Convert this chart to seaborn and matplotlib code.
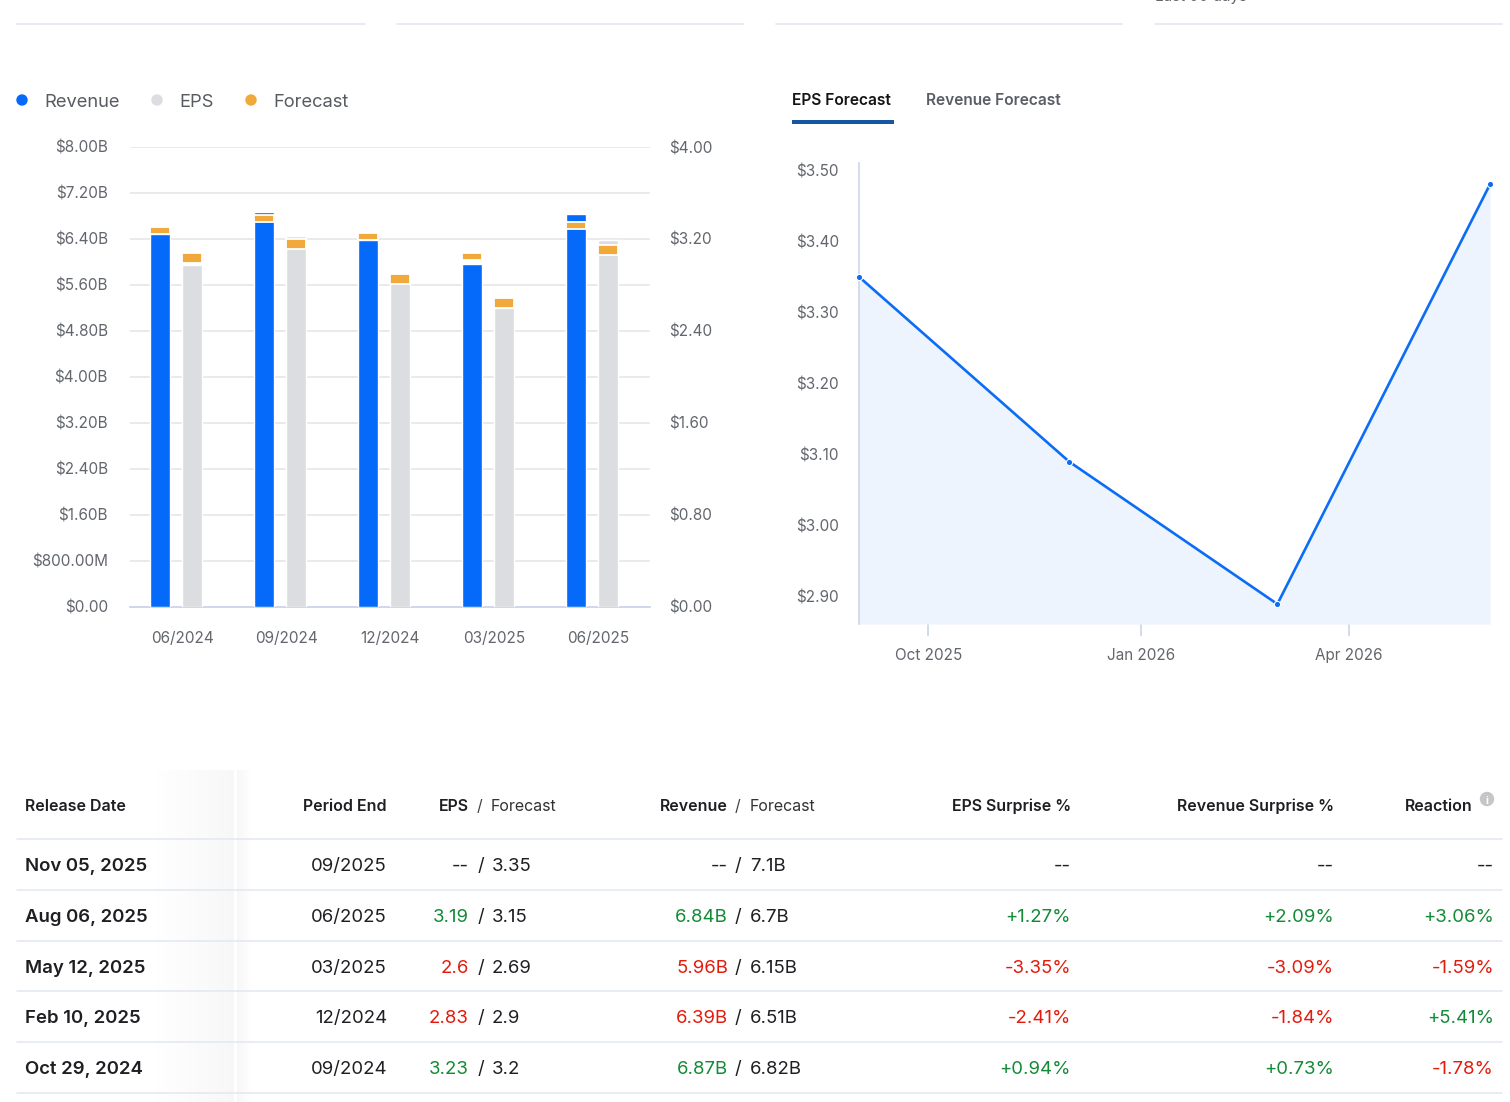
import numpy as np
import pandas as pd
import matplotlib
matplotlib.use('Agg')
import matplotlib.pyplot as plt
import matplotlib.patches as mpatches
import seaborn as sns

sns.set_theme(style='white')
plt.rcParams['font.family'] = ['Inter', 'DejaVu Sans']

# bar chart data (billions / dollars per share)
periods = ['06/2024', '09/2024', '12/2024', '03/2025', '06/2025']
rev_actual = [6.49, 6.87, 6.39, 5.96, 6.84]
rev_forecast = [6.61, 6.82, 6.51, 6.15, 6.70]
eps_actual = [2.97, 3.23, 2.83, 2.60, 3.19]
eps_forecast = [3.08, 3.20, 2.90, 2.69, 3.15]

# eps forecast line
fc_dates = ['2025-09-01', '2025-12-01', '2026-03-01', '2026-06-01']
fc_eps = [3.35, 3.09, 2.89, 3.48]

# table
release = ['Nov 05, 2025', 'Aug 06, 2025', 'May 12, 2025', 'Feb 10, 2025', 'Oct 29, 2024']
period_end = ['09/2025', '06/2025', '03/2025', '12/2024', '09/2024']
eps_act_txt = ['--', '3.19', '2.6', '2.83', '3.23']
eps_fc_txt = ['3.35', '3.15', '2.69', '2.9', '3.2']
rev_act_txt = ['--', '6.84B', '5.96B', '6.39B', '6.87B']
rev_fc_txt = ['7.1B', '6.7B', '6.15B', '6.51B', '6.82B']
eps_surp = ['--', '+1.27%', '-3.35%', '-2.41%', '+0.94%']
rev_surp = ['--', '+2.09%', '-3.09%', '-1.84%', '+0.73%']
reaction = ['--', '+3.06%', '-1.59%', '+5.41%', '-1.78%']

BLUE = '#0569f9'
GREY_BAR = '#dcdde0'
ORANGE = '#f2a93b'
GREEN = '#138a36'
RED = '#e31b0c'
DARK = '#1f1f23'
TICK = '#62666d'
RULE = '#e3e8ef'

W, H = 1510, 1102
fig = plt.figure(figsize=(W / 100, H / 100), dpi=100)
fig.patch.set_facecolor('white')


def rect(x0, y0, x1, y1):
    return [x0 / W, 1 - y1 / H, (x1 - x0) / W, (y1 - y0) / H]


# ---------- bar chart ----------
ax = fig.add_axes(rect(130, 147, 650, 607))
ax2 = ax.twinx()
idx = np.arange(len(periods))
rev_pos = idx - 0.21
eps_pos = idx + 0.10
bw = 0.192

sns.barplot(x=rev_pos, y=np.array(rev_actual) * 1e9, native_scale=True, width=bw,
            color=BLUE, saturation=1, ax=ax, zorder=3)
sns.barplot(x=eps_pos, y=eps_actual, native_scale=True, width=bw,
            color=GREY_BAR, saturation=1, ax=ax2, zorder=3)
rev_band = 0.12e9
eps_band = 0.088
ax.bar(rev_pos, rev_band, bottom=np.array(rev_forecast) * 1e9 - rev_band, width=bw,
       color=ORANGE, edgecolor='white', linewidth=1.3, zorder=4)
ax2.bar(eps_pos, eps_band, bottom=np.array(eps_forecast) - eps_band, width=bw,
        color=ORANGE, edgecolor='white', linewidth=1.3, zorder=4)

ax.set_xlim(-0.5, 4.5)
ax.set_ylim(0, 8e9)
ax2.set_ylim(0, 4)
ax.set_xticks(idx)
ax.set_xticklabels(periods)
lt = np.arange(0, 8.01, 0.8) * 1e9
ax.set_yticks(lt)
ax.set_yticklabels(['$0.00' if v == 0 else ('$800.00M' if v < 1e9 else f'${v / 1e9:.2f}B') for v in lt])
rt = np.arange(0, 4.01, 0.8)
ax2.set_yticks(rt)
ax2.set_yticklabels([f'${v:.2f}' for v in rt])
ax.grid(axis='y', color='#e6e6e6', linewidth=1.2, zorder=0)
ax.set_axisbelow(True)
for a in (ax, ax2):
    for s in a.spines.values():
        s.set_visible(False)
    a.set_xlabel('')
    a.set_ylabel('')
ax.spines['bottom'].set_visible(True)
ax.spines['bottom'].set_color('#ccd6eb')
ax.spines['bottom'].set_linewidth(1.3)
ax.tick_params(axis='y', length=0, pad=16, labelsize=11, labelcolor=TICK)
ax2.tick_params(axis='y', length=0, pad=14, labelsize=11, labelcolor=TICK)
ax.tick_params(axis='x', length=0, pad=17.5, labelsize=11, labelcolor=TICK)
ax2.set_xlim(-0.5, 4.5)

# ---------- eps forecast line ----------
ax3 = fig.add_axes(rect(859, 163, 1490, 624))
df_fc = pd.DataFrame({'date': pd.to_datetime(fc_dates), 'eps': fc_eps})
y_lo, y_hi = 2.862, 3.51
ax3.fill_between(df_fc['date'], df_fc['eps'], y_lo, color='#edf4fe', linewidth=0, zorder=1)
sns.lineplot(data=df_fc, x='date', y='eps', color='#0b6cf5', linewidth=1.9, ax=ax3,
             marker='o', markersize=4.5, markeredgecolor='white', markeredgewidth=0.8, zorder=3,
             clip_on=False)
ax3.set_xlim(df_fc['date'].iloc[0], df_fc['date'].iloc[-1])
ax3.set_ylim(y_lo, y_hi)
ax3.set_yticks(np.arange(2.9, 3.51, 0.1))
ax3.set_yticklabels([f'${v:.2f}' for v in np.arange(2.9, 3.51, 0.1)])
ax3.set_xticks(pd.to_datetime(['2025-10-01', '2026-01-01', '2026-04-01']))
ax3.set_xticklabels(['Oct 2025', 'Jan 2026', 'Apr 2026'])
for s in ax3.spines.values():
    s.set_visible(False)
ax3.spines['left'].set_visible(True)
ax3.spines['left'].set_color('#ccd6eb')
ax3.spines['left'].set_linewidth(1.2)
ax3.tick_params(axis='y', length=6.5, width=1.1, color='#c8d2e6', pad=8, labelsize=11, labelcolor=TICK)
ax3.tick_params(axis='x', bottom=True, length=8.5, width=1.1, color='#c8d2e6', pad=9,
                labelsize=11, labelcolor=TICK)
ax3.set_xlabel('')
ax3.set_ylabel('')
ax3.set_facecolor('none')

# ---------- overlay in pixel coordinates ----------
ov = fig.add_axes([0, 0, 1, 1], facecolor='none')
ov.axis('off')
DY = 2.5  # baseline correction for centred text

# top rules
for x0, x1 in [(17, 365), (397, 743), (776, 1122), (1155, 1502)]:
    ov.plot([x0, x1], [24, 24], color=RULE, linewidth=1.2)
ov.text(1155, -3, 'Last 90 days', fontsize=11, color=TICK, va='center', ha='left')

# legend
for cx, lbl, c in [(22, 'Revenue', BLUE), (157, 'EPS', GREY_BAR), (251, 'Forecast', ORANGE)]:
    ov.add_patch(mpatches.Circle((cx, 100), 5, color=c))
    ov.text(cx + 22, 100 + DY, lbl, fontsize=13.2, color='#575b62', va='center', ha='left')

# tabs
ov.text(792, 99 + 1.5, 'EPS Forecast', fontsize=11.2, fontweight='semibold', color='#141414', va='center')
ov.text(926, 99 + 1.5, 'Revenue Forecast', fontsize=11.2, fontweight='semibold', color='#5a5e65', va='center')
ov.add_patch(mpatches.Rectangle((792, 119.5), 102, 4, color='#1656a3', linewidth=0))

# table shadow of frozen column
grad = np.linspace(0, 1, 100).reshape(1, -1)
ov.imshow(grad, extent=[150, 234, 1102, 770], cmap='Greys', vmin=0, vmax=16,
          aspect='auto', zorder=0, interpolation='bilinear')
ov.imshow(grad[:, ::-1], extent=[237, 252, 1102, 770], cmap='Greys', vmin=0, vmax=16,
          aspect='auto', zorder=0, interpolation='bilinear')
ov.set_xlim(0, W)
ov.set_ylim(H, 0)

# table rules
for yy in [839, 890, 941, 991, 1042, 1093]:
    ov.plot([17, 1502], [yy, yy], color='#e4e9f1', linewidth=1.2, zorder=2)

hy = 804 + DY
hs = 11.5
ov.text(25, hy, 'Release Date', fontsize=hs, fontweight='semibold', color=DARK, va='center', ha='left')
ov.text(387, hy, 'Period End', fontsize=hs, fontweight='semibold', color=DARK, va='center', ha='right')
ov.text(469, hy, 'EPS', fontsize=hs, fontweight='semibold', color=DARK, va='center', ha='right')
ov.text(480, hy, '/', fontsize=hs, color='#444', va='center', ha='center')
ov.text(491, hy, 'Forecast', fontsize=hs, color='#333', va='center', ha='left')
ov.text(728, hy, 'Revenue', fontsize=hs, fontweight='semibold', color=DARK, va='center', ha='right')
ov.text(738, hy, '/', fontsize=hs, color='#444', va='center', ha='center')
ov.text(750, hy, 'Forecast', fontsize=hs, color='#333', va='center', ha='left')
ov.text(1071, hy, 'EPS Surprise %', fontsize=hs, fontweight='semibold', color=DARK, va='center', ha='right')
ov.text(1334, hy, 'Revenue Surprise %', fontsize=hs, fontweight='semibold', color=DARK, va='center', ha='right')
ov.text(1473, hy, 'Reaction', fontsize=hs, fontweight='semibold', color=DARK, va='center', ha='right')
ov.add_patch(mpatches.Circle((1487, 799), 6.5, color='#c4c6ca', zorder=3))
ov.text(1487, 800.5, 'i', fontsize=7.5, fontweight='bold', color='white', va='center', ha='center', zorder=4)


def sign_color(t):
    if t.startswith('+'):
        return GREEN
    if t.startswith('-') and t != '--':
        return RED
    return DARK


def beat_color(a, f):
    if a == '--':
        return DARK
    return GREEN if float(a.rstrip('B')) >= float(f.rstrip('B')) else RED


rs = 13.4
row_y = [864, 915, 966, 1016, 1067]
for i, y0 in enumerate(row_y):
    yy = y0 + DY
    ov.text(25, yy, release[i], fontsize=rs, fontweight='semibold', color=DARK, va='center', ha='left')
    ov.text(387, yy, period_end[i], fontsize=rs, color=DARK, va='center', ha='right')
    ov.text(469, yy, eps_act_txt[i], fontsize=rs, color=beat_color(eps_act_txt[i], eps_fc_txt[i]),
            va='center', ha='right')
    ov.text(481, yy, '/', fontsize=rs, color=DARK, va='center', ha='center')
    ov.text(492, yy, eps_fc_txt[i], fontsize=rs, color=DARK, va='center', ha='left')
    ov.text(728, yy, rev_act_txt[i], fontsize=rs, color=beat_color(rev_act_txt[i], rev_fc_txt[i]),
            va='center', ha='right')
    ov.text(738, yy, '/', fontsize=rs, color=DARK, va='center', ha='center')
    ov.text(750, yy, rev_fc_txt[i], fontsize=rs, color=DARK, va='center', ha='left')
    ov.text(1071, yy, eps_surp[i], fontsize=rs, color=sign_color(eps_surp[i]), va='center', ha='right')
    ov.text(1334, yy, rev_surp[i], fontsize=rs, color=sign_color(rev_surp[i]), va='center', ha='right')
    ov.text(1494, yy, reaction[i], fontsize=rs, color=sign_color(reaction[i]), va='center', ha='right')

fig.savefig('out.png', dpi=100, facecolor='white')
